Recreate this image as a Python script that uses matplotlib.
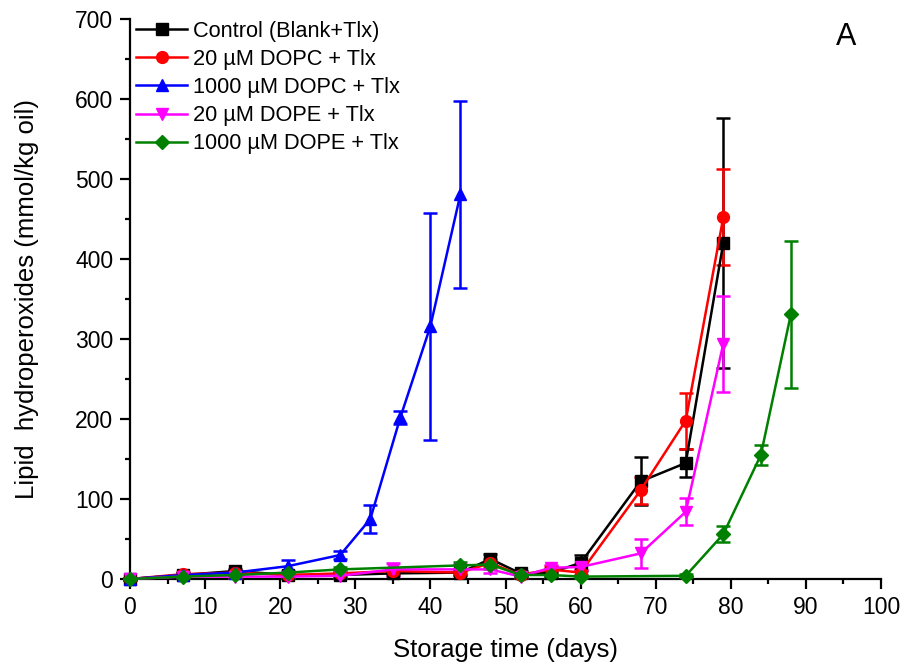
import matplotlib
matplotlib.use("Agg")
import matplotlib.pyplot as plt
from matplotlib.lines import Line2D
from matplotlib.ticker import MultipleLocator

plt.rcParams['font.family'] = ['Liberation Sans', 'DejaVu Sans']

# control (blank + Tlx)
ctrl_days = [0, 7, 14, 21, 28, 35, 44, 48, 52, 56, 60, 68, 74, 79]
ctrl_val = [0, 5, 10, 5, 5, 7, 8, 25, 7, 8, 20, 122, 145, 420]
ctrl_err = [1, 2, 3, 2, 2, 2, 3, 6, 3, 4, 10, 30, 18, 156]

# 20 uM DOPC + Tlx
dopc20_days = [0, 7, 14, 21, 28, 35, 44, 48, 52, 56, 60, 68, 74, 79]
dopc20_val = [0, 6, 8, 5, 7, 10, 8, 20, 5, 12, 8, 111, 198, 452]
dopc20_err = [1, 3, 3, 2, 2, 3, 3, 5, 2, 4, 3, 17, 35, 60]

# 1000 uM DOPC + Tlx
dopc1000_days = [0, 7, 14, 21, 28, 32, 36, 40, 44]
dopc1000_val = [0, 5, 8, 16, 30, 75, 202, 316, 481]
dopc1000_err = [1, 3, 3, 8, 5, 17, 8, 142, 117]

# 20 uM DOPE + Tlx
dope20_days = [0, 7, 14, 21, 28, 35, 44, 48, 52, 56, 60, 68, 74, 79]
dope20_val = [0, 3, 3, 3, 4, 12, 12, 12, 3, 14, 15, 32, 84, 294]
dope20_err = [1, 2, 2, 2, 3, 8, 5, 5, 2, 4, 4, 18, 17, 60]

# 1000 uM DOPE + Tlx
dope1000_days = [0, 7, 14, 21, 28, 44, 48, 52, 56, 60, 74, 79, 84, 88]
dope1000_val = [0, 3, 5, 8, 12, 17, 18, 5, 5, 3, 4, 56, 155, 331]
dope1000_err = [1, 2, 2, 2, 3, 4, 6, 2, 2, 2, 2, 10, 12, 92]

fig = plt.figure(figsize=(9.05, 6.69), dpi=100)
ax = fig.add_axes([130 / 905, 1 - 579 / 669, 751 / 905, 560 / 669])

series = [
    (ctrl_days, ctrl_val, ctrl_err, 'black', 's', 'Control (Blank+Tlx)'),
    (dopc20_days, dopc20_val, dopc20_err, 'red', 'o', '20 µM DOPC + Tlx'),
    (dopc1000_days, dopc1000_val, dopc1000_err, 'blue', '^', '1000 µM DOPC + Tlx'),
    (dope20_days, dope20_val, dope20_err, 'magenta', 'v', '20 µM DOPE + Tlx'),
    (dope1000_days, dope1000_val, dope1000_err, 'green', 'D', '1000 µM DOPE + Tlx'),
]
handles = []
for days, val, err, c, m, lab in series:
    ms = 7.5 if m == 'D' else 8.5
    ax.errorbar(days, val, yerr=err, color=c, marker=m, markersize=ms,
                linewidth=1.8, elinewidth=1.8, capsize=5, capthick=1.8,
                clip_on=False, zorder=3)
    handles.append(Line2D([], [], color=c, marker=m, markersize=ms,
                          linewidth=1.8, label=lab))

ax.set_xlim(0, 100)
ax.set_ylim(0, 700)
ax.xaxis.set_major_locator(MultipleLocator(10))
ax.xaxis.set_minor_locator(MultipleLocator(5))
ax.yaxis.set_major_locator(MultipleLocator(100))
ax.yaxis.set_minor_locator(MultipleLocator(50))
ax.tick_params(which='major', direction='out', length=7, width=1.6,
               labelsize=16.5, pad=5)
ax.tick_params(which='minor', direction='out', length=3.8, width=1.6)
for s in ['top', 'right']:
    ax.spines[s].set_visible(False)
for s in ['left', 'bottom']:
    ax.spines[s].set_linewidth(1.6)

ax.set_xlabel('Storage time (days)', fontsize=18.5, labelpad=14)
ax.set_ylabel('Lipid  hydroperoxides (mmol/kg oil)', fontsize=18.5, labelpad=26)
ax.text(846 / 905, 1 - 22 / 669, 'A', transform=fig.transFigure,
        fontsize=22, ha='center', va='top')

ax.legend(handles=handles, loc='upper left', frameon=False, fontsize=15.7,
          handlelength=2.35, handletextpad=0.25, labelspacing=0.33,
          borderpad=0, borderaxespad=0, bbox_to_anchor=(6 / 751, 0.997))

fig.savefig('out.png', dpi=100)
